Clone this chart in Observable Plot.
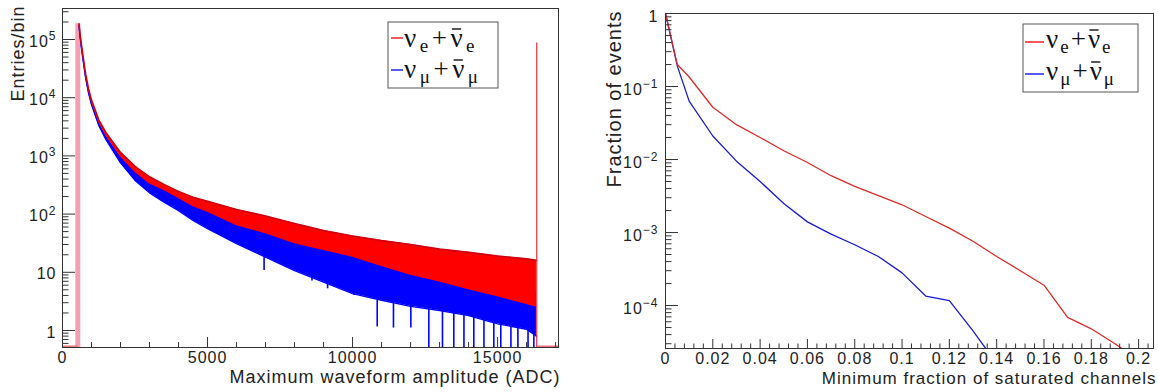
<!DOCTYPE html>
<html><head><meta charset="utf-8">
<script src="https://cdn.jsdelivr.net/npm/d3@7"></script>
<script src="https://cdn.jsdelivr.net/npm/@observablehq/plot@0.6"></script>
<style>
html,body{margin:0;padding:0;background:#fff;}
#wrap{display:flex;width:1158px;height:392px;overflow:hidden;}
svg{display:block;}
</style></head><body><div id="wrap"></div>
<script>
// ================= LEFT PANEL DATA (Entries/bin vs max amplitude, ADC) =================
const ampX       = [570, 600, 650, 700, 800, 900, 1000, 1250, 1500, 2000, 2500, 3000, 3500, 4000, 4500, 5000, 6000, 7000, 8000, 9000, 10000, 11000, 12000, 13000, 14000, 15000, 16000, 16340];
const nueTop     = [186000, 132000, 83000, 55000, 25100, 14100, 9100, 4170, 2510, 1150, 661, 437, 324, 245, 195, 166, 120, 93, 69, 52, 42, 35, 30, 25, 22, 19, 17, 16];
const nueBottom  = [178000, 124000, 77000, 51000, 23200, 13000, 8300, 3750, 2200, 960, 520, 330, 255, 185, 134, 108, 63, 46, 31, 23.7, 18.2, 12.6, 8.9, 6.8, 5.0, 3.8, 2.8, 2.5];
const numuTop    = [180000, 126000, 78000, 52000, 23600, 13200, 8500, 3850, 2250, 1000, 545, 350, 275, 204, 151, 126, 76, 56, 40, 30, 23, 16.6, 12.6, 10, 7.9, 6.3, 5.0, 4.5];
const numuBottom = [172000, 118000, 73000, 48000, 21500, 11900, 7600, 3350, 1900, 760, 380, 232, 160, 115, 78, 56, 31, 18.2, 10.7, 6.8, 4.3, 3.3, 2.6, 2.2, 1.8, 1.3, 1.05, 0.8];
// downward fluctuations of the numu histogram
const dipX    = [6950, 8600, 9140, 9700, 10050, 10850, 11410, 12010, 12630, 13100, 13490, 13840, 14180, 14530, 14870, 15110, 15460, 15700, 16050, 16250];
const dipLow  = [10.7, 7.1, 5.2, 5.6, 4.0, 1.15, 1.1, 1.1, 0.5, 0.5, 0.5, 0.5, 0.5, 0.5, 0.5, 0.5, 0.5, 0.5, 0.5, 0.5];
const dipHigh = [18, 14, 10, 7.5, 6.5, 4.5, 3.5, 3.0, 2.7, 2.4, 2.2, 2.0, 1.9, 1.7, 1.5, 1.4, 1.3, 1.2, 1.1, 1.0];
// first (threshold) bin and saturation bin of nue histogram
const firstBinX = 528, firstBinCount = 186000;
const satBinX = 16350, satBinCount = 87000;
// empty-bin ranges drawn at the floor
const emptyFrom = [0, 16390];
const emptyTo   = [540, 17100];
// axes
const ampDomain = [0, 17100];
const entriesDomain = [0.51, 341000];
const ampTicks = [0, 5000, 10000, 15000];
const ampTickLabels = ["0", "5000", "10000", "15000"];
const ampMinorTicks = [1000, 2000, 3000, 4000, 6000, 7000, 8000, 9000, 11000, 12000, 13000, 14000, 16000, 17000];
const entriesTicks = [1, 10, 100, 1000, 10000, 100000];
const entriesTickLabels = ["1", "10", "10^2", "10^3", "10^4", "10^5"];

// ================= RIGHT PANEL DATA (fraction of events) =================
const satFracX = [0, 0.005, 0.01, 0.02, 0.03, 0.04, 0.05, 0.06, 0.07, 0.08, 0.09, 0.10, 0.11, 0.12, 0.13, 0.14, 0.15, 0.16, 0.17, 0.18, 0.19, 0.20];
const fracNue  = [1, 0.2, 0.135, 0.052, 0.030, 0.020, 0.0132, 0.0091, 0.0060, 0.0043, 0.0032, 0.0024, 0.00166, 0.00115, 0.00076, 0.00047, 0.00030, 0.00019, 0.000069, 0.000048, 0.000030, 0.000018];
const fracNumu = [1, 0.19, 0.063, 0.021, 0.0095, 0.0050, 0.0025, 0.0014, 0.00095, 0.00068, 0.00047, 0.00028, 0.000135, 0.000117, 0.000045, 0.000016];
const satDomain = [0, 0.2063];
const fracDomain = [2.58e-5, 1];
const satTicks = [0, 0.02, 0.04, 0.06, 0.08, 0.1, 0.12, 0.14, 0.16, 0.18, 0.2];
const satTickLabels = ["0", "0.02", "0.04", "0.06", "0.08", "0.1", "0.12", "0.14", "0.16", "0.18", "0.2"];
const fracTicks = [1, 0.1, 0.01, 0.001, 0.0001];
const fracTickLabels = ["1", "10^-1", "10^-2", "10^-3", "10^-4"];

// legend
const legendFlavors = ["e", "\u03bc"];
const legendColors = ["red", "blue"];

// ================= helpers =================
const H = 392;
const sans = "'Liberation Sans', Arial, Helvetica, sans-serif";
const serif = "'Liberation Serif', 'Times New Roman', serif";
const idx = a => a.map((_, i) => i);
function logMinor(lo, hi) {
  const out = [];
  for (let e = Math.floor(Math.log10(lo)); e <= Math.ceil(Math.log10(hi)); e++)
    for (let k = 2; k <= 9; k++) { const v = k * Math.pow(10, e); if (v >= lo && v <= hi) out.push(v); }
  return out;
}
function superscripts(svg) {
  d3.select(svg).selectAll("text").each(function () {
    const m = /^10\^(.+)$/.exec(this.textContent);
    if (!m) return;
    const target = this.querySelector("tspan") || this;
    target.textContent = "10";
    d3.select(this).append("tspan").attr("dy", "-0.55em").attr("font-size", "12px").text(m[1].replace("-", "\u2212"));
  });
}
// legend: each symbol piece is its own text element, placed one after the other
function legend(svg, box, rows, gap) {
  const g = d3.select(svg).append("g").attr("text-anchor", "start").style("letter-spacing", "0px");
  g.append("rect").attr("x", box.x).attr("y", box.y).attr("width", box.w).attr("height", box.h)
    .attr("fill", "white").attr("stroke", "#555").attr("stroke-width", 1);
  rows.forEach((r, i) => {
    g.append("line").attr("x1", r.lx1).attr("x2", r.lx2).attr("y1", r.ly).attr("y2", r.ly)
      .attr("stroke", legendColors[i]).attr("stroke-width", 1.3);
    const pieces = [
      {s: "\u03bd", fs: 27, dy: 0},
      {s: legendFlavors[i], fs: 19, dy: 5},
      {s: "+", fs: 27, dy: 0},
      {s: "\u03bd", fs: 27, dy: 0, bar: true},
      {s: legendFlavors[i], fs: 19, dy: 5}
    ];
    let x = r.tx;
    pieces.forEach(p => {
      const t = g.append("text").attr("x", x).attr("y", r.ty + p.dy)
        .attr("font-family", serif).attr("font-size", p.fs).attr("fill", "#111").text(p.s);
      const w = t.node().getComputedTextLength();
      if (p.bar) g.append("line").attr("x1", x + 1.5).attr("x2", x + w - 1.5)
        .attr("y1", r.ty - 18).attr("y2", r.ty - 18).attr("stroke", "#111").attr("stroke-width", 1.4);
      x += w + gap;
    });
  });
}

// ================= LEFT PLOT =================
const LW = 590, LM = {top: 8, right: 32, bottom: 45, left: 62};
const LiW = LW - LM.left - LM.right, LiH = H - LM.top - LM.bottom;
const left = Plot.plot({
  width: LW, height: H,
  marginTop: LM.top, marginRight: LM.right, marginBottom: LM.bottom, marginLeft: LM.left,
  style: {fontFamily: sans, fontSize: "16px", background: "white", color: "#222", letterSpacing: "1px"},
  x: {domain: ampDomain, axis: null},
  y: {type: "log", domain: entriesDomain, axis: null},
  marks: [
    Plot.ruleX([0], {x: () => firstBinX, y1: () => entriesDomain[0], y2: () => firstBinCount, stroke: "#f3a0b2", strokeWidth: 5}),
    Plot.ruleY(idx(emptyFrom), {x1: i => emptyFrom[i], x2: i => emptyTo[i], y: () => entriesDomain[0], stroke: "#f07080", strokeWidth: 2, dy: -1}),
    Plot.areaY(idx(ampX), {x: i => ampX[i], y1: i => numuBottom[i], y2: i => numuTop[i], fill: "blue", clip: true}),
    Plot.line(idx(ampX), {x: i => ampX[i], y: i => numuBottom[i], stroke: "blue", strokeWidth: 1.4, clip: true}),
    Plot.ruleX(idx(dipX), {x: i => dipX[i], y1: i => dipLow[i], y2: i => dipHigh[i], stroke: "blue", strokeWidth: 1.6, clip: true}),
    Plot.areaY(idx(ampX), {x: i => ampX[i], y1: i => nueBottom[i], y2: i => nueTop[i], fill: "red", clip: true}),
    Plot.line(idx(ampX), {x: i => ampX[i], y: i => nueTop[i], stroke: "#d00010", strokeWidth: 1.6, clip: true}),
    Plot.ruleX([0], {x: () => satBinX, y1: () => entriesDomain[0], y2: () => satBinCount, stroke: "#e0303f", strokeWidth: 1.2}),
    Plot.frame({stroke: "#333"}),
    Plot.tickY(entriesTicks, {y: d => d, insetRight: LiW - 13, stroke: "#333"}),
    Plot.tickY(logMinor(entriesDomain[0], entriesDomain[1]), {y: d => d, insetRight: LiW - 6.5, stroke: "#333"}),
    Plot.tickX(ampTicks, {x: d => d, insetTop: LiH - 10, stroke: "#333"}),
    Plot.tickX(ampMinorTicks, {x: d => d, insetTop: LiH - 5, stroke: "#333"}),
    Plot.text(idx(ampTicks), {x: i => ampTicks[i], text: i => ampTickLabels[i], frameAnchor: "bottom", lineAnchor: "top", dy: 4, fill: "#222"}),
    Plot.text(idx(entriesTicks), {y: i => entriesTicks[i], text: i => entriesTickLabels[i], frameAnchor: "left", textAnchor: "end", dx: -6, dy: 2, fill: "#222"}),
    Plot.text(["Maximum waveform amplitude (ADC)"], {frameAnchor: "bottom-right", textAnchor: "end", lineAnchor: "top", dx: 2, dy: 23, fontSize: 18, fill: "#222"}),
    Plot.text(["Entries/bin"], {frameAnchor: "top-left", rotate: -90, textAnchor: "end", lineAnchor: "middle", dx: -44, dy: -3, fontSize: 18, fill: "#222"})
  ]
});
superscripts(left);

// ================= RIGHT PLOT =================
const RW = 568, RM = {top: 13, right: 5, bottom: 44, left: 75};
const RiW = RW - RM.left - RM.right, RiH = H - RM.top - RM.bottom;
const right = Plot.plot({
  width: RW, height: H,
  marginTop: RM.top, marginRight: RM.right, marginBottom: RM.bottom, marginLeft: RM.left,
  style: {fontFamily: sans, fontSize: "16px", background: "white", color: "#222", letterSpacing: "1px"},
  x: {domain: satDomain, axis: null},
  y: {type: "log", domain: fracDomain, axis: null},
  marks: [
    Plot.line(idx(fracNumu), {x: i => satFracX[i], y: i => fracNumu[i], stroke: "#1a1ad0", strokeWidth: 1.3, clip: true}),
    Plot.line(idx(fracNue), {x: i => satFracX[i], y: i => fracNue[i], stroke: "#dd2a2a", strokeWidth: 1.3, clip: true}),
    Plot.frame({stroke: "#333"}),
    Plot.tickY(fracTicks, {y: d => d, insetRight: RiW - 13, stroke: "#333"}),
    Plot.tickY(logMinor(fracDomain[0], fracDomain[1]), {y: d => d, insetRight: RiW - 6.5, stroke: "#333"}),
    Plot.tickX(satTicks, {x: d => d, insetTop: RiH - 9, stroke: "#333"}),
    Plot.tickX(d3.range(0.004, 0.2062, 0.004).filter(v => Math.abs(v / 0.02 - Math.round(v / 0.02)) > 1e-6), {x: d => d, insetTop: RiH - 4.5, stroke: "#333"}),
    Plot.text(idx(satTicks), {x: i => satTicks[i], text: i => satTickLabels[i], frameAnchor: "bottom", lineAnchor: "top", dy: 4, fill: "#222"}),
    Plot.text(idx(fracTicks), {y: i => fracTicks[i], text: i => fracTickLabels[i], frameAnchor: "left", textAnchor: "end", dx: -7, dy: 3, fill: "#222"}),
    Plot.text(["Minimum fraction of saturated channels"], {frameAnchor: "bottom-right", textAnchor: "end", lineAnchor: "top", dx: 3, dy: 23, fontSize: 17, fill: "#222"}),
    Plot.text(["Fraction of events"], {frameAnchor: "top-left", rotate: -90, textAnchor: "end", lineAnchor: "middle", dx: -51, dy: -3, fontSize: 20, fill: "#222"})
  ]
});
superscripts(right);

document.getElementById("wrap").append(left, right);

legend(left, {x: 388, y: 22, w: 110, h: 66}, [
  {lx1: 391, lx2: 403, ly: 38, tx: 404, ty: 47},
  {lx1: 391, lx2: 403, ly: 70, tx: 404, ty: 78}
], 3.5);
legend(right, {x: 433, y: 24, w: 115, h: 68}, [
  {lx1: 435, lx2: 454, ly: 42, tx: 456, ty: 48},
  {lx1: 435, lx2: 454, ly: 74, tx: 456, ty: 80}
], 2);
</script>
</body></html>
